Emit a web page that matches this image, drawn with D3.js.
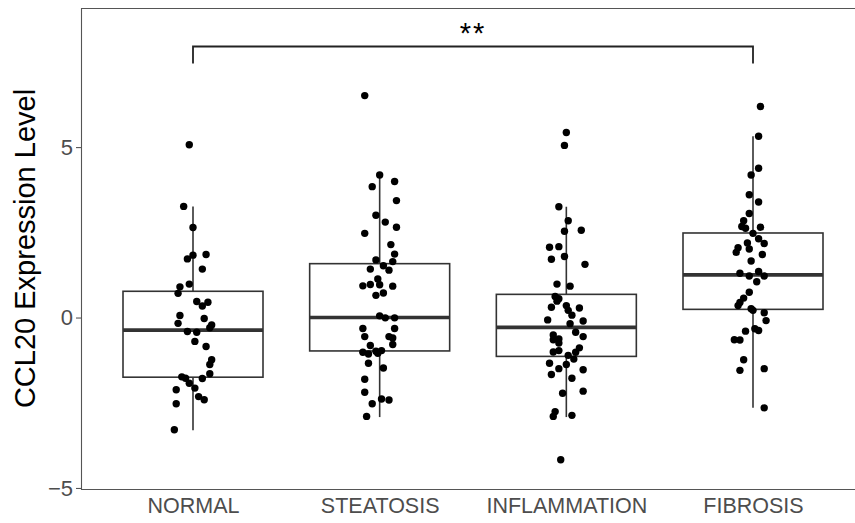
<!DOCTYPE html>
<html>
<head>
<meta charset="utf-8">
<script src="https://cdn.jsdelivr.net/npm/d3@7"></script>
<style>
  html, body { margin: 0; padding: 0; background: #fff; overflow: hidden; }
  svg { display: block; font-family: "Liberation Sans", Arial, sans-serif; overflow: hidden; }
</style>
</head>
<body>
<svg id="chart" width="855" height="523"></svg>
<script>
// Disease stages along the x axis
const categories = ["NORMAL", "STEATOSIS", "INFLAMMATION", "FIBROSIS"];

// Individual samples per stage: [horizontal jitter (fraction of category step), CCL20 expression]
const normalPts = [
  [-0.02, 5.07], [-0.05, 3.26], [0.00, 2.64], [-0.03, 1.72], [0.00, 1.83], [0.07, 1.85],
  [0.05, 1.42], [-0.02, 0.98], [-0.07, 0.90], [-0.08, 0.71], [0.02, 0.47], [0.08, 0.45],
  [0.05, 0.34], [-0.07, 0.06], [-0.08, -0.17], [0.06, -0.03], [0.10, -0.22], [0.09, -0.30],
  [-0.03, -0.41], [0.02, -0.43], [0.01, -0.70], [0.07, -0.85], [0.10, -1.24], [0.09, -1.38],
  [-0.06, -1.74], [-0.04, -1.78], [0.05, -1.79], [0.09, -1.65], [-0.02, -1.93], [0.01, -2.07],
  [-0.09, -2.12], [0.03, -2.32], [0.06, -2.41], [-0.09, -2.53], [-0.10, -3.29]
];
const steatosisPts = [
  [-0.08, 6.51], [0.00, 4.18], [0.08, 3.99], [-0.04, 3.84], [0.09, 3.43], [-0.02, 3.00],
  [0.03, 2.80], [0.09, 2.65], [-0.08, 2.47], [0.06, 2.14], [0.08, 1.86], [-0.02, 1.69],
  [0.07, 1.64], [0.02, 1.52], [-0.05, 1.42], [0.05, 1.39], [-0.01, 1.13], [-0.09, 0.93],
  [-0.05, 0.97], [0.00, 0.96], [0.07, 0.92], [0.02, 0.72], [-0.02, 0.65], [0.00, 0.05],
  [0.03, -0.01], [0.08, -0.01], [0.08, -0.32], [-0.09, -0.32], [-0.08, -0.56], [0.05, -0.56],
  [0.07, -0.60], [0.07, -0.79], [-0.05, -0.82], [-0.09, -1.02], [-0.06, -1.07], [-0.02, -0.99],
  [0.01, -0.97], [-0.01, -1.05], [-0.06, -1.34], [0.02, -1.48], [-0.08, -1.81], [-0.08, -2.19],
  [0.01, -2.39], [0.05, -2.42], [-0.04, -2.53], [-0.07, -2.90]
];
const inflammationPts = [
  [0.00, 5.43], [-0.01, 5.05], [-0.04, 3.25], [0.01, 2.84], [-0.01, 2.53], [0.08, 2.56],
  [-0.09, 2.06], [-0.04, 2.08], [-0.01, 1.79], [-0.08, 1.71], [0.10, 1.56], [-0.05, 0.98],
  [0.02, 0.92], [-0.06, 0.62], [-0.04, 0.55], [-0.05, 0.48], [-0.08, 0.30], [0.00, 0.35],
  [0.01, 0.21], [0.07, 0.28], [0.03, 0.07], [-0.10, -0.07], [0.09, -0.10], [0.02, -0.18],
  [0.05, -0.43], [-0.07, -0.51], [0.09, -0.56], [-0.04, -0.63], [-0.07, -0.65], [-0.04, -0.75],
  [0.07, -0.89], [0.05, -1.02], [-0.07, -1.01], [-0.04, -0.97], [0.01, -1.11], [0.04, -1.22],
  [-0.09, -1.34], [0.00, -1.38], [-0.04, -1.50], [-0.08, -1.67], [0.09, -1.53], [0.03, -1.78],
  [-0.02, -2.22], [0.09, -2.16], [-0.06, -2.76], [-0.07, -2.90], [0.03, -2.87], [-0.03, -4.17]
];
const fibrosisPts = [
  [0.04, 6.19], [0.03, 5.32], [0.03, 4.38], [-0.01, 4.18], [-0.02, 3.60], [0.03, 3.39],
  [-0.02, 3.05], [-0.05, 2.84], [-0.06, 2.67], [-0.04, 2.62], [0.04, 2.65], [0.00, 2.47],
  [0.03, 2.31], [-0.03, 2.19], [0.06, 2.17], [-0.08, 2.05], [-0.02, 2.01], [-0.09, 1.91],
  [0.05, 1.85], [-0.01, 1.66], [-0.07, 1.30], [-0.02, 1.22], [0.03, 1.35], [0.06, 1.22],
  [0.02, 1.05], [-0.02, 0.74], [-0.05, 0.57], [-0.07, 0.44], [-0.08, 0.35], [-0.01, 0.26],
  [0.00, 0.21], [0.06, 0.14], [0.07, -0.09], [0.01, -0.33], [0.03, -0.38], [-0.04, -0.40],
  [-0.10, -0.65], [-0.07, -0.66], [-0.05, -1.24], [-0.07, -1.55], [0.06, -1.50], [0.06, -2.65]
];
const pointSets = [normalPts, steatosisPts, inflammationPts, fibrosisPts];

// Box summaries per stage
const whiskerLow  = [-3.31, -2.92, -2.92, -2.65];
const q1          = [-1.75, -0.98, -1.14, 0.24];
const medians     = [-0.37, 0.00, -0.29, 1.25];
const q3          = [0.77, 1.58, 0.68, 2.48];
const whiskerHigh = [3.26, 4.18, 3.25, 5.32];

// Axis ticks and significance annotation
const yTicks = [-5, 0, 5];
const comparison = ["NORMAL", "FIBROSIS"];
const comparisonLabel = "**";
const bracketLevel = 7.95;
const bracketDrop = 0.5;
const yTitle = "CCL20 Expression Level";

const svg = d3.select("#chart");
const W = +svg.attr("width");
const panel = { left: 81, top: 8, right: 865, bottom: 489 };

const x = d3.scalePoint()
  .domain(categories)
  .range([panel.left, panel.right])
  .padding(0.6);
const step = x.step();
const boxW = step * 0.75;

const y = d3.scaleLinear()
  .domain([-5.03, 9.08])
  .range([panel.bottom, panel.top]);

// Panel frame: top, left and bottom edges; the right edge lies past the drawing area
svg.append("path")
  .attr("d", `M${W},${panel.top + 0.5} H${panel.left + 0.5} V${panel.bottom + 0.5} H${W}`)
  .attr("fill", "none")
  .attr("stroke", "#555")
  .attr("stroke-width", 1.1);

// Y axis
const yAxis = d3.axisLeft(y).tickValues(yTicks).tickSizeInner(5).tickSizeOuter(0).tickPadding(3)
  .tickFormat(d => d < 0 ? "\u2212" + Math.abs(d) : d);
const gy = svg.append("g").attr("transform", `translate(${panel.left},0)`).call(yAxis);
gy.select(".domain").remove();
gy.selectAll(".tick line").attr("stroke", "#555").attr("stroke-width", 1.1);
gy.selectAll(".tick text").attr("fill", "#4d4d4d").attr("font-size", 22)
  .attr("font-family", "Liberation Sans, Arial, sans-serif");

// X axis labels (no tick marks)
const xAxis = d3.axisBottom(x).tickSize(0).tickPadding(9);
const gx = svg.append("g").attr("transform", `translate(0,${panel.bottom})`).call(xAxis);
gx.select(".domain").remove();
gx.selectAll(".tick text").attr("fill", "#4d4d4d").attr("font-size", 21.5)
  .attr("font-family", "Liberation Sans, Arial, sans-serif");

// Y axis title
svg.append("text")
  .attr("transform", `translate(35,${(panel.top + panel.bottom) / 2}) rotate(-90)`)
  .attr("text-anchor", "middle")
  .attr("font-size", 29)
  .attr("fill", "#000")
  .text(yTitle);

// Boxplots
const boxes = svg.append("g");
categories.forEach((c, i) => {
  const cx = x(c);
  const g = boxes.append("g");
  g.append("line")
    .attr("x1", cx).attr("x2", cx)
    .attr("y1", y(whiskerHigh[i])).attr("y2", y(q3[i]))
    .attr("stroke", "#333").attr("stroke-width", 1.6);
  g.append("line")
    .attr("x1", cx).attr("x2", cx)
    .attr("y1", y(q1[i])).attr("y2", y(whiskerLow[i]))
    .attr("stroke", "#333").attr("stroke-width", 1.6);
  g.append("rect")
    .attr("x", cx - boxW / 2).attr("width", boxW)
    .attr("y", y(q3[i])).attr("height", y(q1[i]) - y(q3[i]))
    .attr("fill", "#fff").attr("stroke", "#333").attr("stroke-width", 1.6);
  g.append("line")
    .attr("x1", cx - boxW / 2).attr("x2", cx + boxW / 2)
    .attr("y1", y(medians[i])).attr("y2", y(medians[i]))
    .attr("stroke", "#333").attr("stroke-width", 3.6);
});

// Jittered sample points
const dots = svg.append("g");
categories.forEach((c, i) => {
  dots.selectAll(null)
    .data(pointSets[i])
    .join("circle")
    .attr("cx", d => x(c) + d[0] * step)
    .attr("cy", d => y(d[1]))
    .attr("r", 3.7)
    .attr("fill", "#000");
});

// Significance bracket
const bx1 = x(comparison[0]), bx2 = x(comparison[1]);
svg.append("path")
  .attr("d", `M${bx1},${y(bracketLevel - bracketDrop)} V${y(bracketLevel)} H${bx2} V${y(bracketLevel - bracketDrop)}`)
  .attr("fill", "none").attr("stroke", "#222").attr("stroke-width", 1.8);
svg.append("text")
  .attr("x", (bx1 + bx2) / 2)
  .attr("y", y(bracketLevel) - 4)
  .attr("text-anchor", "middle")
  .attr("font-size", 29)
  .attr("letter-spacing", 2)
  .attr("fill", "#000")
  .text(comparisonLabel);
</script>
</body>
</html>
